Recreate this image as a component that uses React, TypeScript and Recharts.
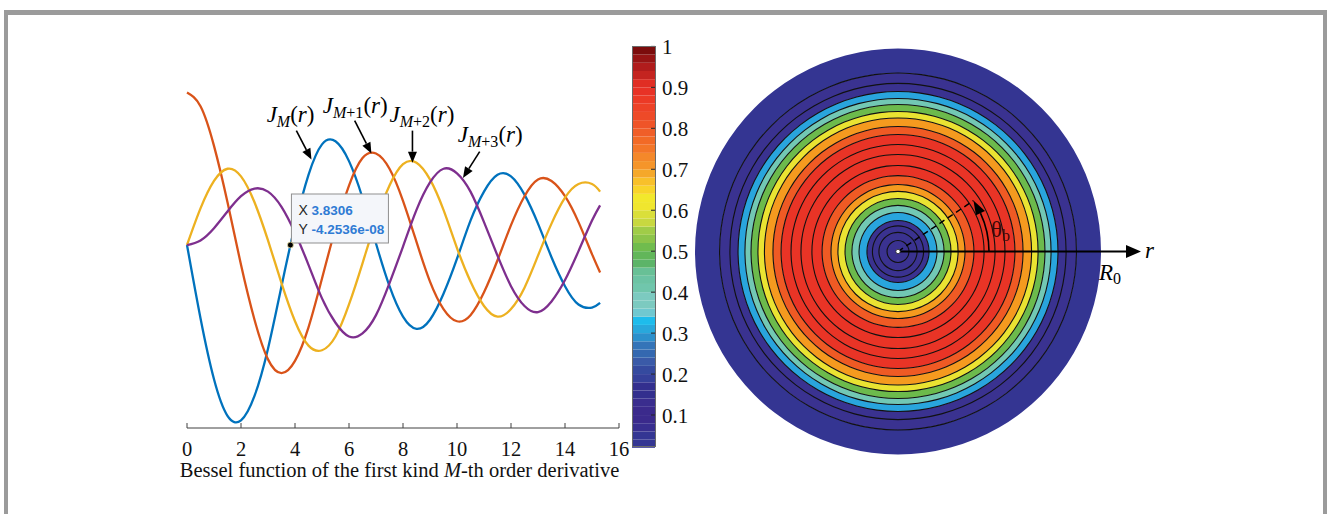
import React from "react";
import {
  LineChart,
  Line,
  XAxis,
  YAxis,
  ReferenceDot,
  ReferenceLine,
  BarChart,
  Bar,
  PieChart,
  Pie,
  Cell,
} from "recharts";

// sample points along r
const rSamples = [
  0, 0.5, 1, 1.5, 2, 2.5, 3, 3.5, 4, 4.5, 5, 5.5, 6, 6.5, 7, 7.5, 8, 8.5, 9,
  9.5, 10, 10.5, 11, 11.5, 12, 12.5, 13, 13.5, 14, 14.5, 15, 15.3,
];
// J_M(r) (blue)
const jM = [
  0, -0.48, -0.88, -1.12, -1.15, -0.99, -0.68, -0.27, 0.13, 0.46, 0.66, 0.68,
  0.55, 0.31, 0.01, -0.27, -0.47, -0.55, -0.49, -0.32, -0.09, 0.16, 0.35, 0.46,
  0.45, 0.33, 0.14, -0.08, -0.27, -0.39, -0.41, -0.38,
];
// J_M+1(r) (red)
const jM1 = [
  1, 0.91, 0.65, 0.28, -0.13, -0.49, -0.75, -0.84, -0.76, -0.54, -0.22, 0.11,
  0.39, 0.57, 0.6, 0.5, 0.29, 0.02, -0.24, -0.42, -0.5, -0.46, -0.31, -0.1,
  0.13, 0.32, 0.43, 0.42, 0.32, 0.15, -0.06, -0.18,
];
// J_M+2(r) (yellow)
const jM2 = [
  0, 0.24, 0.42, 0.5, 0.45, 0.28, 0.03, -0.25, -0.5, -0.66, -0.69, -0.6, -0.39,
  -0.12, 0.16, 0.39, 0.53, 0.54, 0.43, 0.23, -0.02, -0.24, -0.4, -0.47, -0.42,
  -0.28, -0.07, 0.14, 0.31, 0.4, 0.4, 0.35,
];
// J_M+3(r) (purple)
const jM3 = [
  0, 0.03, 0.11, 0.22, 0.32, 0.37, 0.35, 0.25, 0.08, -0.13, -0.35, -0.51, -0.6,
  -0.58, -0.46, -0.25, -0.01, 0.23, 0.41, 0.5, 0.47, 0.35, 0.15, -0.07, -0.27,
  -0.4, -0.44, -0.37, -0.23, -0.04, 0.16, 0.26,
];
const xTicks = [0, 2, 4, 6, 8, 10, 12, 14, 16];

// data tip
const tipX = 3.8306;
const tipY = -4.2536e-8;

// colorbar
const cbTicks = [0.1, 0.2, 0.3, 0.4, 0.5, 0.6, 0.7, 0.8, 0.9, 1];
const cbStart = 0.02;
const cbStep = 0.02;
const cbColors = [
  "#343693", "#343693", "#382e8f", "#3b2a8c", "#3b2a8c", "#3a2d8e", "#332f8e",
  "#332f8e", "#35409a", "#354a9f", "#3a5aa8", "#3468b0", "#3474b8", "#2c90cc",
  "#28a8dc", "#1ebcec", "#70c8d0", "#7ccac0", "#7ccac0", "#70c6ac", "#6cc3a4",
  "#68c096", "#5cb468", "#62b65a", "#70bc4e", "#8cc44a", "#a0cc48", "#c8d840",
  "#dadf3a", "#f0e62e", "#f2e82c", "#f8d42a", "#f8c02a", "#f5a82a", "#f5952a",
  "#f4882a", "#f37628", "#f26a26", "#f05e28", "#ef5428", "#ee4a28", "#ed4227",
  "#ec3a26", "#e83226", "#e02e24", "#c42420", "#b01c1c", "#961414", "#7b0c0c",
];

// disk: contour bands (r / R0) and their levels
const ringEdges = [
  0, 0.153, 0.192, 0.227, 0.261, 0.296, 0.33, 0.374, 0.576, 0.616, 0.658, 0.69,
  0.724, 0.754, 0.788, 0.879, 1.0,
];
const ringLevels = [
  0.2, 0.3, 0.4, 0.5, 0.6, 0.7, 0.8, 0.9, 0.8, 0.7, 0.6, 0.5, 0.4, 0.3, 0.2, 0.1,
];
const extraContours = [0.054, 0.094, 0.126, 0.424, 0.478, 0.527, 0.828];
const levelValues = [0.1, 0.2, 0.3, 0.4, 0.5, 0.6, 0.7, 0.8, 0.9];
const levelColors = [
  "#343592", "#3a3290", "#29a5dd", "#72c8b4", "#6cba4c", "#eae332", "#f59a1f",
  "#ef5a24", "#e93426",
];

const SERIF = '"Liberation Serif", "Times New Roman", serif';
const SANS = '"Liberation Sans", Arial, sans-serif';

const lineData = rSamples.map((r, i) => ({
  r,
  jM: jM[i],
  jM1: jM1[i],
  jM2: jM2[i],
  jM3: jM3[i],
}));

const cbRow: Record<string, number | string> = { name: "cb", pad: cbStart };
cbColors.forEach((_, i) => {
  cbRow["s" + i] = cbStep;
});

const curveLabels = [
  { sub: "M", x: 2.95, y: 0.807 },
  { sub: "M+1", x: 5.03, y: 0.866 },
  { sub: "M+2", x: 7.5, y: 0.807 },
  { sub: "M+3", x: 10.03, y: 0.675 },
];
const curveArrows = [
  { x1: 4.05, y1: 0.75, x2: 4.61, y2: 0.56 },
  { x1: 6.21, y1: 0.815, x2: 6.83, y2: 0.6 },
  { x1: 8.35, y1: 0.75, x2: 8.35, y2: 0.54 },
  { x1: 10.84, y1: 0.612, x2: 10.22, y2: 0.44 },
];

const XTick = (props: any) => {
  const { x, y, payload } = props;
  return (
    <g>
      <line x1={x} y1={y} x2={x} y2={y - 5} stroke="#404040" />
      <text x={x} y={y + 28} textAnchor="middle" fontFamily={SERIF} fontSize={20.5} fill="#111">
        {payload.value}
      </text>
    </g>
  );
};

const CbTick = (props: any) => {
  const { x, y, payload } = props;
  const v = payload.value;
  return (
    <g>
      <line x1={x - 4} y1={y} x2={x} y2={y} stroke="#222" />
      <text x={x + 7} y={y + 1} dominantBaseline="central" fontFamily={SERIF} fontSize={21} fill="#111">
        {v === 1 ? "1" : v.toFixed(1)}
      </text>
    </g>
  );
};

const arrowShape = (p: any) => {
  const { x1, y1, x2, y2 } = p;
  const a = Math.atan2(y2 - y1, x2 - x1);
  const len = 11;
  const half = 4.5;
  const bx = x2 - len * Math.cos(a);
  const by = y2 - len * Math.sin(a);
  const px = -Math.sin(a) * half;
  const py = Math.cos(a) * half;
  return (
    <g>
      <line x1={x1} y1={y1} x2={bx} y2={by} stroke="#000" strokeWidth={1.6} />
      <polygon points={`${x2},${y2} ${bx + px},${by + py} ${bx - px},${by - py}`} fill="#000" />
    </g>
  );
};

const labelShape = (sub: string) => (p: any) => {
  const m = sub.slice(0, 1);
  const rest = sub.slice(1);
  return (
    <text x={p.cx} y={p.cy} fontFamily={SERIF} fontSize={23} fill="#000">
      <tspan fontStyle="italic">J</tspan>
      <tspan fontStyle="italic" fontSize={16} dy={5}>
        {m}
      </tspan>
      {rest ? <tspan fontSize={16}>{rest}</tspan> : null}
      <tspan dy={-5}>(</tspan>
      <tspan fontStyle="italic">r</tspan>
      <tspan>)</tspan>
    </text>
  );
};

const tipShape = (p: any) => {
  const { cx, cy } = p;
  const bx = cx + 1;
  const by = cy - 51;
  return (
    <g>
      <rect x={bx} y={by} width={97} height={49} fill="#f4f6fa" stroke="#8f8f8f" />
      <text x={bx + 7} y={by + 21} fontFamily={SANS} fontSize={14} fill="#262626">
        X
      </text>
      <text x={bx + 20} y={by + 21} fontFamily={SANS} fontSize={13.5} fontWeight="bold" fill="#2f7bd4">
        {tipX.toString()}
      </text>
      <text x={bx + 7} y={by + 40} fontFamily={SANS} fontSize={14} fill="#262626">
        Y
      </text>
      <text x={bx + 20} y={by + 40} fontFamily={SANS} fontSize={13.5} fontWeight="bold" fill="#2f7bd4">
        -4.2536e-08
      </text>
      <circle cx={cx} cy={cy} r={3} fill="#000" stroke="#efe7a8" strokeWidth={0.8} />
    </g>
  );
};

const levelColor = (lv: number) => levelColors[levelValues.indexOf(lv)];

const R = 203;
const PIE_CX = 210;
const PIE_CY = 209.5;
const contourRadii = [...ringEdges.slice(1, -1), ...extraContours];

export default function App() {
  const cx = 688 + PIE_CX;
  const cy = 42 + PIE_CY;
  const thA = (34 * Math.PI) / 180;
  const thB = (25 * Math.PI) / 180;
  const arcR = 91;
  const tip = { x: cx + arcR * Math.cos(thA), y: cy - arcR * Math.sin(thA) };
  const base = { x: cx + arcR * Math.cos(thB), y: cy - arcR * Math.sin(thB) };
  const ux = Math.cos(thB);
  const uy = -Math.sin(thB);
  return (
    <div style={{ position: "absolute", left: 0, top: 0, width: 1327, height: 514, background: "#fff" }}>
      {/* frame */}
      <div style={{ position: "absolute", left: 4, top: 10, width: 1323, height: 5, background: "#9b9b9b" }} />
      <div style={{ position: "absolute", left: 4, top: 10, width: 4, height: 504, background: "#9b9b9b" }} />
      <div style={{ position: "absolute", left: 1323, top: 10, width: 4, height: 504, background: "#9b9b9b" }} />

      {/* Bessel curves */}
      <div style={{ position: "absolute", left: 0, top: 0 }}>
        <LineChart width={640} height={500} data={lineData} margin={{ top: 62, right: 21, bottom: 0, left: 187 }}>
          <XAxis
            dataKey="r"
            type="number"
            domain={[0, 16]}
            ticks={xTicks}
            interval={0}
            height={72}
            tickSize={0}
            tickMargin={0}
            tickLine={false}
            tick={<XTick />}
            axisLine={{ stroke: "#404040" }}
          />
          <YAxis type="number" domain={[-1.2, 1.2]} width={0} tick={false} tickLine={false} axisLine={{ stroke: "#404040" }} />
          <Line type="natural" dataKey="jM" stroke="#0072BD" strokeWidth={2.3} dot={false} isAnimationActive={false} />
          <Line type="natural" dataKey="jM1" stroke="#D95319" strokeWidth={2.3} dot={false} isAnimationActive={false} />
          <Line type="natural" dataKey="jM2" stroke="#EDB120" strokeWidth={2.3} dot={false} isAnimationActive={false} />
          <Line type="natural" dataKey="jM3" stroke="#7E2F8E" strokeWidth={2.3} dot={false} isAnimationActive={false} />
          {curveArrows.map((a, i) => (
            <ReferenceLine
              key={"a" + i}
              segment={[
                { x: a.x1, y: a.y1 },
                { x: a.x2, y: a.y2 },
              ]}
              shape={arrowShape}
            />
          ))}
          {curveLabels.map((l, i) => (
            <ReferenceDot key={"l" + i} x={l.x} y={l.y} shape={labelShape(l.sub)} />
          ))}
          <ReferenceDot x={tipX} y={tipY} shape={tipShape} />
        </LineChart>
      </div>

      {/* colorbar */}
      <div style={{ position: "absolute", left: 600, top: 0 }}>
        <BarChart width={100} height={470} data={[cbRow]} margin={{ top: 46.4, right: 5, bottom: 14, left: 32 }} barCategoryGap={0}>
          <XAxis dataKey="name" hide />
          <YAxis
            orientation="right"
            type="number"
            domain={[0, 1]}
            ticks={cbTicks}
            interval={0}
            width={40}
            tickSize={0}
            tickMargin={0}
            axisLine={false}
            tickLine={false}
            tick={<CbTick />}
          />
          <Bar dataKey="pad" stackId="cb" fill="transparent" isAnimationActive={false} />
          {cbColors.map((c, i) => (
            <Bar key={i} dataKey={"s" + i} stackId="cb" fill={c} isAnimationActive={false} />
          ))}
        </BarChart>
      </div>
      <div
        style={{
          position: "absolute",
          left: 631.5,
          top: 46.4,
          width: 24,
          height: 400.5,
          border: "1px solid #6a6a6a",
          boxSizing: "border-box",
        }}
      />

      {/* contour disk */}
      <div style={{ position: "absolute", left: 688, top: 42 }}>
        <PieChart width={420} height={420} margin={{ top: 0, right: 0, bottom: 0, left: 0 }}>
          {ringLevels.map((lv, i) => (
            <Pie
              key={"ring" + i}
              data={[{ v: 1 }]}
              dataKey="v"
              cx={PIE_CX}
              cy={PIE_CY}
              innerRadius={ringEdges[i] * R}
              outerRadius={ringEdges[i + 1] * R}
              startAngle={0}
              endAngle={360}
              stroke="none"
              isAnimationActive={false}
            >
              <Cell fill={levelColor(lv)} />
            </Pie>
          ))}
          {contourRadii.map((cr, i) => (
            <Pie
              key={"c" + i}
              data={[{ v: 1 }]}
              dataKey="v"
              cx={PIE_CX}
              cy={PIE_CY}
              innerRadius={cr * R - 0.55}
              outerRadius={cr * R + 0.55}
              startAngle={0}
              endAngle={360}
              stroke="none"
              isAnimationActive={false}
            >
              <Cell fill="#111" />
            </Pie>
          ))}
        </PieChart>
      </div>

      {/* annotations */}
      <svg width={1327} height={514} style={{ position: "absolute", left: 0, top: 0, pointerEvents: "none" }}>
        <text x={399.5} y={477} textAnchor="middle" fontFamily={SERIF} fontSize={20.5} fill="#111">
          Bessel function of the first kind <tspan fontStyle="italic">M</tspan>-th order derivative
        </text>

        <line x1={cx} y1={cy} x2={1128} y2={cy} stroke="#000" strokeWidth={2} />
        <polygon points={`${1141},${cy} ${1126},${cy - 6.5} ${1126},${cy + 6.5}`} fill="#000" />
        <text x={1145} y={cy + 6} fontFamily={SERIF} fontStyle="italic" fontSize={23} fill="#000">
          r
        </text>
        <text x={1099} y={280} fontFamily={SERIF} fontSize={23} fill="#000">
          <tspan fontStyle="italic">R</tspan>
          <tspan fontSize={16} dy={4}>
            0
          </tspan>
        </text>

        <line x1={cx} y1={cy} x2={tip.x} y2={tip.y} stroke="#000" strokeWidth={1.5} strokeDasharray="6,4" />
        <path
          d={`M ${cx + arcR} ${cy} A ${arcR} ${arcR} 0 0 0 ${base.x} ${base.y}`}
          fill="none"
          stroke="#000"
          strokeWidth={1.6}
        />
        <polygon
          points={`${tip.x},${tip.y} ${base.x + ux * 5},${base.y + uy * 5} ${base.x - ux * 5},${base.y - uy * 5}`}
          fill="#000"
        />
        <text x={991} y={237} fontFamily={SERIF} fontSize={23} fill="#3a0808">
          θ
          <tspan fontSize={16} dy={4}>
            b
          </tspan>
        </text>
        <circle cx={cx} cy={cy} r={2.2} fill="#fff" stroke="#222" strokeWidth={0.8} />
      </svg>
    </div>
  );
}
